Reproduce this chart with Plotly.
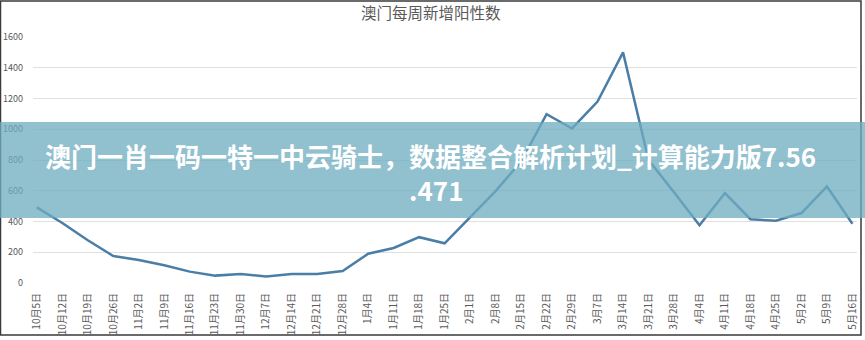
import plotly.graph_objects as go

dates = ["10月5日", "10月12日", "10月19日", "10月26日", "11月2日", "11月9日", "11月16日",
         "11月23日", "11月30日", "12月7日", "12月14日", "12月21日", "12月28日", "1月4日",
         "1月11日", "1月18日", "1月25日", "2月1日", "2月8日", "2月15日", "2月22日", "2月29日",
         "3月7日", "3月14日", "3月21日", "3月28日", "4月4日", "4月11日", "4月18日", "4月25日",
         "5月2日", "5月9日", "5月16日"]
values = [492, 390, 278, 176, 150, 115, 74, 48, 58, 42, 58, 58, 78, 190, 228, 298, 258,
          430, 598, 790, 1098, 1005, 1180, 1500, 800, 590, 375, 585, 415, 405, 455, 628, 385]
y_ticks = [0, 200, 400, 600, 800, 1000, 1200, 1400, 1600]

title_text = "澳门每周新增阳性数"
banner_line1 = "澳门一肖一码一特一中云骑士，数据整合解析计划_计算能力版7.56"
banner_line2 = ".471"

FONT = "Noto Sans CJK SC"
W, H = 865, 340
L, R, T, B = 33, 8, 37, 57
pw, ph = W - L - R, H - T - B


def px_x(p):
    return (p - L) / pw


def px_y(p):
    return (H - B - p) / ph


fig = go.Figure()
fig.add_trace(go.Scatter(
    x=list(range(len(dates))), y=values, mode="lines",
    line=dict(color="#4a7ea6", width=2.5), hoverinfo="skip",
))

fig.update_layout(
    width=W, height=H,
    margin=dict(l=L, r=R, t=T, b=B, autoexpand=False),
    paper_bgcolor="white", plot_bgcolor="white",
    showlegend=False,
    font=dict(family=FONT, color="#595959", size=10),
    xaxis=dict(
        range=[-0.15, len(dates) - 1 + 0.18], automargin=False,
        tickmode="array", tickvals=list(range(len(dates))), ticktext=dates,
        tickangle=-90, showgrid=False, zeroline=False, showline=False,
        ticks="", ticklabelstandoff=7,
        tickfont=dict(size=10, color="#595959", family=FONT),
    ),
    yaxis=dict(
        range=[0, 1600], tickmode="array", tickvals=y_ticks, automargin=False,
        showgrid=True, gridcolor="#e0e0e0", gridwidth=1, zeroline=False,
        showline=False, ticks="", ticklabelstandoff=9,
        tickfont=dict(size=9, color="#595959", family=FONT),
    ),
)

# Chart title
fig.add_annotation(
    text=title_text, xref="paper", yref="paper",
    x=px_x(431), y=px_y(12), xanchor="center", yanchor="middle",
    showarrow=False, font=dict(size=15.5, color="#595959", family=FONT),
)

# Outer frame
fig.add_shape(type="rect", xref="paper", yref="paper",
              x0=px_x(0.5), x1=px_x(861), y0=px_y(1), y1=px_y(335),
              line=dict(color="#3a3a3a", width=1.5), fillcolor="rgba(0,0,0,0)",
              layer="above")

# Banner
fig.add_shape(type="rect", xref="paper", yref="paper",
              x0=px_x(-2), x1=px_x(867), y0=px_y(122), y1=px_y(218),
              line=dict(width=0), fillcolor="rgba(110,172,192,0.76)",
              layer="above")
fig.add_annotation(
    text="<b>" + banner_line1 + "</b>", xref="paper", yref="paper",
    x=px_x(430), y=px_y(155), xanchor="center", yanchor="middle",
    showarrow=False, font=dict(size=26, color="white", family=FONT),
)
fig.add_annotation(
    text="<b>" + banner_line2 + "</b>", xref="paper", yref="paper",
    x=px_x(436), y=px_y(189), xanchor="center", yanchor="middle",
    showarrow=False, font=dict(size=26, color="white", family=FONT),
)

fig.write_html("out.html")
